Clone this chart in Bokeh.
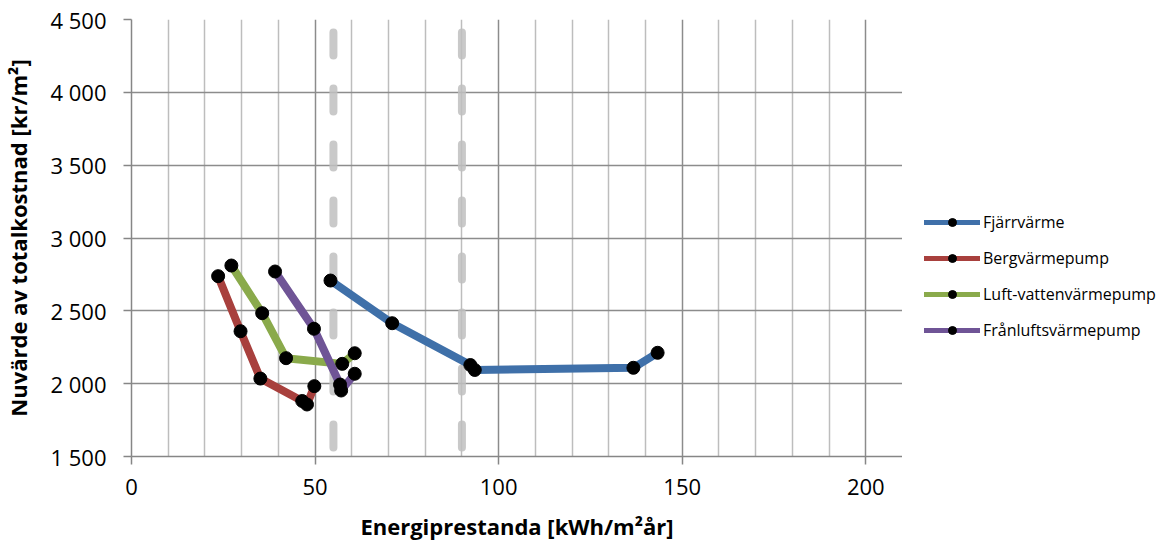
from bokeh.plotting import figure
from bokeh.layouts import row
from bokeh.models import FixedTicker, Legend, LegendItem, ColumnDataSource
from bokeh.embed import file_html
from bokeh.resources import INLINE

# Energiprestanda [kWh/m²år] och nuvärde av totalkostnad [kr/m²] per uppvärmningssystem
fjarrvarme_x = [54.2, 71.0, 92.3, 93.5, 136.7, 143.3]
fjarrvarme_y = [2708, 2415, 2128, 2094, 2109, 2212]

bergvarme_x = [23.6, 29.7, 35.1, 46.5, 47.8, 49.8]
bergvarme_y = [2738, 2360, 2035, 1881, 1857, 1983]

luftvatten_x = [27.2, 35.6, 42.1, 57.4, 60.8]
luftvatten_y = [2811, 2484, 2175, 2136, 2209]

franluft_x = [39.1, 49.7, 56.8, 57.1, 60.8]
franluft_y = [2770, 2377, 1994, 1953, 2068]

series_names = ["Fjärrvärme", "Bergvärmepump", "Luft-vattenvärmepump", "Frånluftsvärmepump"]
series_colors = ["#3f70a9", "#a8403d", "#8aaa4b", "#6f5496"]

# Kravnivåer (vertikala streckade linjer)
limit_x = [55, 90]

x_major_ticks = [0, 50, 100, 150, 200]
x_minor_ticks = [10, 20, 30, 40, 60, 70, 80, 90, 110, 120, 130, 140,
                 160, 170, 180, 190, 210]
y_ticks = [1500, 2000, 2500, 3000, 3500, 4000, 4500]
y_tick_labels = ["1 500", "2 000", "2 500", "3 000", "3 500", "4 000", "4 500"]

X_START, X_END = 0, 210
Y_START, Y_END = 1500, 4500

FONT = "Open Sans"

p = figure(width=902, height=548, output_backend="svg", toolbar_location=None,
           x_range=(X_START, X_END), y_range=(Y_START, Y_END),
           min_border_left=128, min_border_right=0,
           min_border_top=19, min_border_bottom=92)
p.outline_line_color = None
p.background_fill_color = "white"
p.border_fill_color = "white"

# grid
p.xgrid.grid_line_color = "#8c8c8c"
p.xgrid.grid_line_width = 1.5
p.xgrid.minor_grid_line_color = "#bdbdbd"
p.xgrid.minor_grid_line_width = 1.5
p.ygrid.grid_line_color = "#8c8c8c"
p.ygrid.grid_line_width = 1.5

# axes
p.xaxis.ticker = FixedTicker(ticks=x_major_ticks, minor_ticks=x_minor_ticks)
p.yaxis.ticker = FixedTicker(ticks=y_ticks)
p.yaxis.major_label_overrides = dict(zip(y_ticks, y_tick_labels))
for ax in (p.xaxis[0], p.yaxis[0]):
    ax.axis_line_color = "#868686"
    ax.axis_line_width = 1.5
    ax.major_tick_line_color = "#868686"
    ax.major_tick_line_width = 1.5
    ax.major_tick_in = 0
    ax.major_tick_out = 8
    ax.minor_tick_in = 0
    ax.minor_tick_out = 0
    ax.major_label_text_font = FONT
    ax.major_label_text_font_size = "22px"
    ax.major_label_text_color = "#000000"
    ax.axis_label_text_font = FONT
    ax.axis_label_text_font_size = "22px"
    ax.axis_label_text_font_style = "bold"
    ax.axis_label_text_color = "#000000"

p.xaxis.axis_label = "Energiprestanda [kWh/m²år]"
p.yaxis.axis_label = "Nuvärde av totalkostnad [kr/m²]"
p.xaxis.major_label_standoff = 14
p.xaxis.axis_label_standoff = 13
p.yaxis.major_label_standoff = 17
p.yaxis.axis_label_standoff = 14

# limit lines
p.segment(x0=limit_x, y0=[Y_START] * len(limit_x), x1=limit_x, y1=[Y_END] * len(limit_x),
          line_color="#bfbfbf", line_alpha=0.85, line_width=8, line_cap="round",
          line_dash="23 33", line_dash_offset=47)

xs = [fjarrvarme_x, bergvarme_x, luftvatten_x, franluft_x]
ys = [fjarrvarme_y, bergvarme_y, luftvatten_y, franluft_y]

for color, x, y in zip(series_colors, xs, ys):
    src = ColumnDataSource(dict(x=x, y=y))
    p.line("x", "y", source=src, line_color=color, line_width=8, line_join="round", line_cap="round")
    p.scatter("x", "y", source=src, size=13, fill_color="black", line_color="black")

# legend panel to the right of the chart
leg = figure(width=265, height=548, output_backend="svg", toolbar_location=None,
             x_range=(0, 1), y_range=(0, 1), min_border=0)
leg.axis.visible = False
leg.grid.visible = False
leg.outline_line_color = None
leg.background_fill_color = "white"
leg.border_fill_color = "white"

legend_items = []
for name, color in zip(series_names, series_colors):
    swatch = ColumnDataSource(dict(x=[float("nan")], y=[float("nan")]))
    lr = leg.line("x", "y", source=swatch, line_color=color, line_width=5, line_cap="round")
    mr = leg.scatter("x", "y", source=swatch, size=10, fill_color="black", line_color="black")
    legend_items.append(LegendItem(label=name, renderers=[lr, mr]))

legend = Legend(items=legend_items, location=(22, 115),
                glyph_width=56, glyph_height=20, label_height=20, spacing=14,
                label_standoff=3, padding=0, margin=0,
                label_text_font=FONT, label_text_font_size="16px",
                label_text_color="#000000",
                background_fill_alpha=0, border_line_alpha=0)
leg.add_layout(legend)

layout = row(p, leg, spacing=0)
open("out.html", "w").write(file_html(layout, INLINE))
